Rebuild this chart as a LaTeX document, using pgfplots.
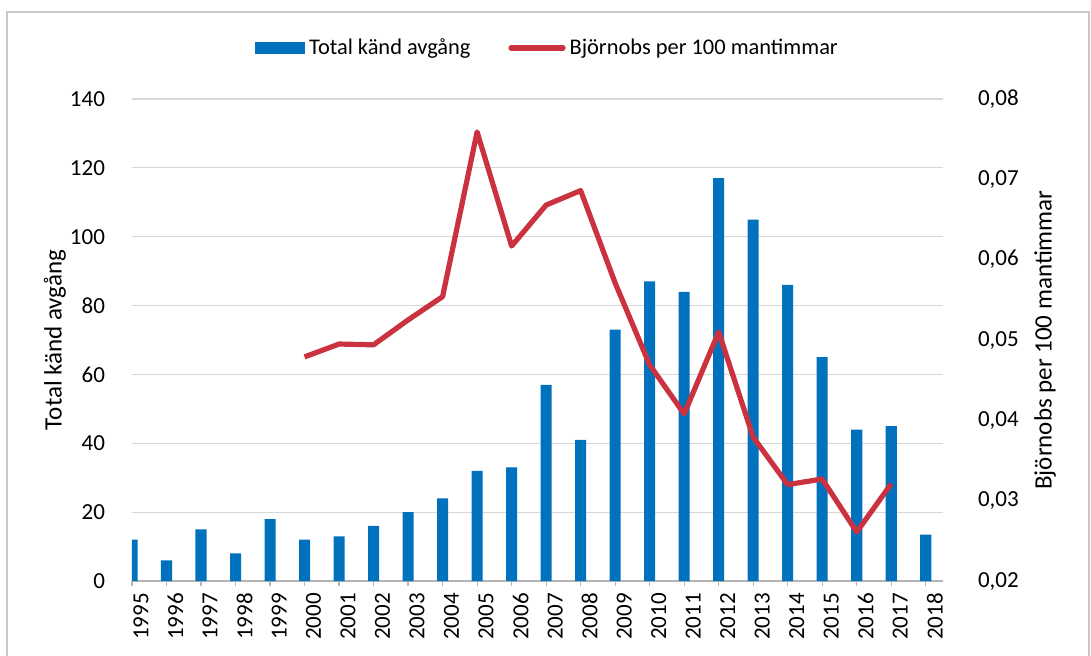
\documentclass[border=0pt]{standalone}
\usepackage{fontspec}
\setmainfont{Carlito}
\usepackage{pgfplots}
\pgfplotsset{compat=1.18}
\definecolor{barblue}{RGB}{0,114,189}
\definecolor{linered}{RGB}{202,50,64}
\definecolor{gridgray}{RGB}{215,215,215}
\definecolor{axgray}{RGB}{180,180,180}
\definecolor{framegray}{RGB}{200,200,200}

\begin{document}
\begin{tikzpicture}
\path[use as bounding box] (-66pt,-37pt) rectangle (479.5pt,290.5pt);
\draw[framegray, line width=0.7pt] (-62.5pt,-45pt) -- (-62.5pt,284.5pt) -- (478.5pt,284.5pt) -- (478.5pt,-45pt);

\begin{axis}[
  at={(0pt,0pt)}, anchor=south west,
  scale only axis, width=405.5pt, height=241pt,
  xmin=1995, xmax=2018.5, ymin=0, ymax=140,
  ytick={0,20,40,60,80,100,120,140},
  xtick={1995,1996,...,2018},
  axis x line*=bottom, axis y line*=left,
  x axis line style={axgray, line width=0.6pt, -},
  y axis line style={draw=none},
  xtick style={axgray, line width=0.6pt},
  ytick style={draw=none},
  tick align=outside, major tick length=2.5pt,
  ymajorgrids, grid style={gridgray, line width=0.6pt},
  ybar, bar width=0.32, bar shift=0pt,
  x tick label style={font=\fontsize{11.5}{12}\selectfont, rotate=90, anchor=east, yshift=-4.5pt, /pgf/number format/1000 sep={}, /pgf/number format/assume math mode=true},
  y tick label style={font=\fontsize{11.5}{13}\selectfont, xshift=-7.5pt, /pgf/number format/assume math mode=true},
  ylabel={Total känd avgång},
  ylabel style={font=\fontsize{12.5}{14}\selectfont, at={(axis description cs:-0.095,0.5)}, anchor=center},
]
\addplot[fill=barblue, draw=none] coordinates {
(1995,12) (1996,6) (1997,15) (1998,8) (1999,18) (2000,12) (2001,13) (2002,16)
(2003,20) (2004,24) (2005,32) (2006,33) (2007,57) (2008,41) (2009,73) (2010,87)
(2011,84) (2012,117) (2013,105) (2014,86) (2015,65) (2016,44) (2017,45) (2018,13.5)
};
\end{axis}

\begin{axis}[
  at={(0pt,0pt)}, anchor=south west,
  scale only axis, width=405.5pt, height=241pt,
  xmin=1995, xmax=2018.5, ymin=0.02, ymax=0.08,
  axis x line=none, axis y line*=right,
  y axis line style={draw=none}, ytick style={draw=none},
  ytick={0.02,0.03,0.04,0.05,0.06,0.07,0.08},
  scaled y ticks=false,
  y tick label style={font=\fontsize{11.5}{13}\selectfont, xshift=14pt,
    /pgf/number format/fixed, /pgf/number format/fixed zerofill, /pgf/number format/precision=2,
    /pgf/number format/use comma, /pgf/number format/assume math mode=true},
  ylabel={Björnobs per 100 mantimmar},
  ylabel style={font=\fontsize{12.5}{14}\selectfont, at={(axis description cs:1.126,0.5)}, anchor=center},
  legend columns=2,
  legend style={at={(0.5136,1.106)}, anchor=center, draw=none, fill=none,
    font=\fontsize{11.2}{13}\selectfont,
    /tikz/every even column/.append style={column sep=17pt}},
  legend cell align=left,
]
\addlegendimage{legend image code/.code={\fill[barblue] (0pt,-2.9pt) rectangle (24.5pt,2.9pt);}}
\addlegendentry{Total känd avgång}
\addplot[linered, line width=2.6pt, line join=round, mark=none,
  legend image code/.code={\draw[linered, line width=2.6pt, line cap=round] (0pt,0pt) -- (26pt,0pt);}]
coordinates {
(2000,0.0479) (2001,0.0495) (2002,0.0494) (2003,0.0525) (2004,0.0554) (2005,0.0759)
(2006,0.0617) (2007,0.0668) (2008,0.0686) (2009,0.0571) (2010,0.0469) (2011,0.0408)
(2012,0.0510) (2013,0.0379) (2014,0.0320) (2015,0.0327) (2016,0.0261) (2017,0.0321)
};
\addlegendentry{Björnobs per 100 mantimmar}
\end{axis}
\end{tikzpicture}
\end{document}
